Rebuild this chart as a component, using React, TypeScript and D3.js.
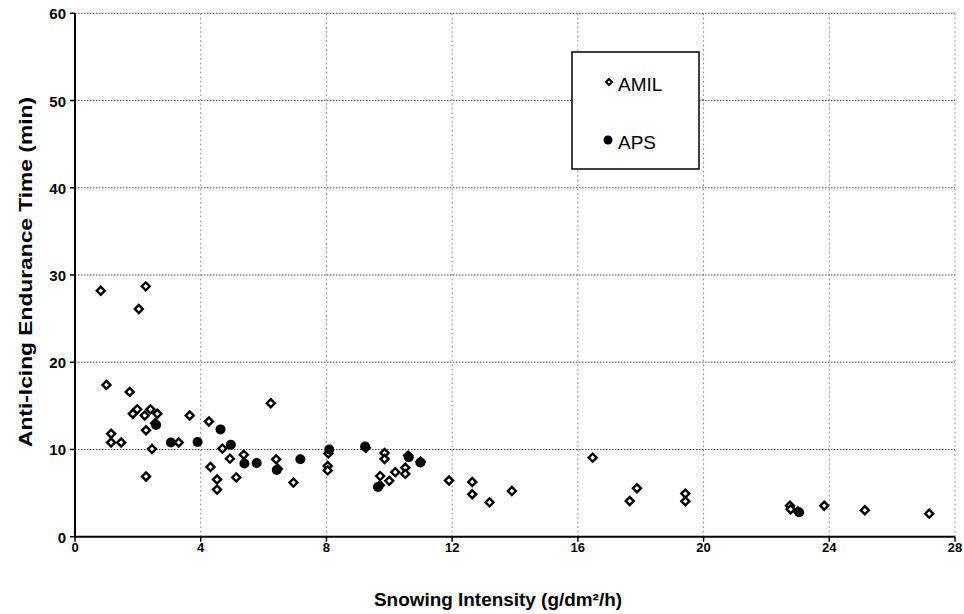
import React from "react";
import * as d3 from "d3";

const xTicks = [0, 4, 8, 12, 16, 20, 24, 28];
const yTicks = [0, 10, 20, 30, 40, 50, 60];

const amilX = [0.82, 2.25, 2.03, 1.0, 1.74, 1.84, 1.98, 2.22, 2.4, 2.62, 2.26, 1.15, 1.15, 1.47, 2.45, 2.26, 3.65, 3.3, 4.26, 4.69, 4.93, 4.31, 4.52, 4.52, 5.13, 5.37, 6.23, 6.4, 6.95, 8.06, 8.04, 8.04, 9.85, 9.85, 9.71, 10.0, 10.19, 10.51, 10.51, 10.6, 11.0, 11.9, 12.64, 12.64, 13.19, 13.9, 16.47, 17.65, 17.88, 19.42, 19.42, 22.75, 22.77, 23.0, 23.84, 25.13, 27.18, 2.55, 6.45, 9.25, 9.7];
const amilY = [28.2, 28.7, 26.1, 17.4, 16.6, 14.1, 14.6, 13.9, 14.6, 14.1, 12.2, 11.8, 10.8, 10.8, 10.05, 6.9, 13.9, 10.8, 13.2, 10.1, 8.95, 8.0, 6.55, 5.4, 6.8, 9.4, 15.3, 8.87, 6.2, 9.55, 8.1, 7.6, 9.6, 8.9, 6.95, 6.4, 7.4, 7.9, 7.2, 9.3, 8.6, 6.45, 6.27, 4.86, 3.94, 5.24, 9.06, 4.1, 5.56, 4.94, 4.06, 3.56, 3.14, 2.9, 3.55, 3.03, 2.64, 13.0, 7.8, 10.2, 5.9];

const apsX = [2.58, 3.05, 3.9, 4.63, 4.96, 5.39, 5.78, 6.42, 7.17, 8.09, 9.23, 9.64, 10.62, 10.99, 23.04];
const apsY = [12.8, 10.8, 10.85, 12.3, 10.55, 8.4, 8.45, 7.65, 8.87, 10.0, 10.35, 5.7, 9.1, 8.5, 2.8];

const seriesNames = ["AMIL", "APS"];
const xTitle = "Snowing Intensity (g/dm²/h)";
const yTitle = "Anti-Icing Endurance Time (min)";

const W = 964;
const H = 614;
const left = 75;
const right = 955;
const top = 13.3;
const bottom = 536.7;

export default function App() {
  const x = d3.scaleLinear().domain([0, 28]).range([left, right]);
  const y = d3.scaleLinear().domain([0, 60]).range([bottom, top]);
  const diamond = d3.symbol(d3.symbolSquare, 32)();
  const legendDiamond = d3.symbol(d3.symbolSquare, 18)();
  const font = "'Liberation Sans', Arial, sans-serif";

  return (
    <div style={{ position: "absolute", left: 0, top: 0 }}>
      <svg width={W} height={H} style={{ display: "block", background: "#fff" }} fontFamily={font}>
        {yTicks.filter((t) => t > 0).map((t) => (
          <line key={"gy" + t} x1={left} x2={right} y1={y(t)} y2={y(t)} stroke="#444" strokeWidth={1} strokeDasharray="1.5,1.5" />
        ))}
        {xTicks.filter((t) => t > 0).map((t) => (
          <line key={"gx" + t} x1={x(t)} x2={x(t)} y1={top} y2={bottom} stroke="#777" strokeWidth={1} strokeDasharray="1.5,3" />
        ))}
        <line x1={left} x2={left} y1={top} y2={bottom} stroke="#000" strokeWidth={2} />
        <line x1={left} x2={right} y1={bottom} y2={bottom} stroke="#000" strokeWidth={2} />
        {yTicks.map((t) => (
          <g key={"ty" + t}>
            <line x1={left - 5} x2={left} y1={y(t)} y2={y(t)} stroke="#000" strokeWidth={1.5} />
            <text x={66} y={y(t) + 2} textAnchor="end" dominantBaseline="middle" fontSize={15} fontWeight="bold">{t}</text>
          </g>
        ))}
        {xTicks.map((t) => (
          <g key={"tx" + t}>
            <line x1={x(t)} x2={x(t)} y1={bottom} y2={bottom + 5} stroke="#000" strokeWidth={1.5} />
            <text x={x(t)} y={549} textAnchor="middle" dominantBaseline="middle" fontSize={13} fontWeight="bold">{t}</text>
          </g>
        ))}
        <text x={498} y={601} textAnchor="middle" dominantBaseline="middle" fontSize={18} fontWeight="bold" textLength={248} lengthAdjust="spacingAndGlyphs">{xTitle}</text>
        <text transform="translate(27,272) rotate(-90)" textAnchor="middle" dominantBaseline="middle" fontSize={19} fontWeight="bold" textLength={350} lengthAdjust="spacingAndGlyphs">{yTitle}</text>
        {amilX.map((v, i) => (
          <path key={"a" + i} d={diamond} transform={`translate(${x(v)},${y(amilY[i])}) rotate(45)`} fill="#fff" stroke="#000" strokeWidth={2.4} />
        ))}
        {apsX.map((v, i) => (
          <circle key={"p" + i} cx={x(v)} cy={y(apsY[i])} r={5} fill="#000" />
        ))}
        <rect x={572} y={52} width={127} height={117} fill="#fff" stroke="#000" strokeWidth={1.5} />
        <path d={legendDiamond} transform="translate(609,82) rotate(45)" fill="#fff" stroke="#000" strokeWidth={2} />
        <text x={618} y={86} dominantBaseline="middle" fontSize={19}>{seriesNames[0]}</text>
        <circle cx={608} cy={140} r={4.5} fill="#000" />
        <text x={618} y={144} dominantBaseline="middle" fontSize={19}>{seriesNames[1]}</text>
      </svg>
    </div>
  );
}
